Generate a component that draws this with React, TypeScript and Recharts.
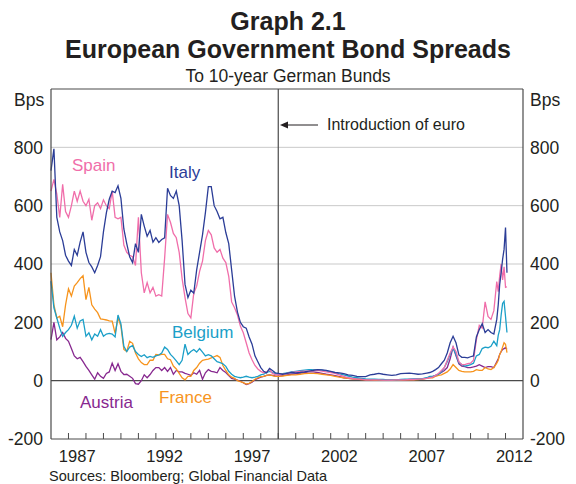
import { LineChart, Line, XAxis, YAxis, ReferenceLine } from 'recharts';

// decimal years: two-monthly to 1999, quarterly to mid-2007, then two-monthly / monthly
const dates = [
  1986, 1986.167, 1986.333, 1986.5, 1986.667, 1986.833,
  1987, 1987.167, 1987.333, 1987.5, 1987.667, 1987.833,
  1988, 1988.167, 1988.333, 1988.5, 1988.667, 1988.833,
  1989, 1989.167, 1989.333, 1989.5, 1989.667, 1989.833,
  1990, 1990.167, 1990.333, 1990.5, 1990.667, 1990.833,
  1991, 1991.167, 1991.333, 1991.5, 1991.667, 1991.833,
  1992, 1992.167, 1992.333, 1992.5, 1992.667, 1992.833,
  1993, 1993.167, 1993.333, 1993.5, 1993.667, 1993.833,
  1994, 1994.167, 1994.333, 1994.5, 1994.667, 1994.833,
  1995, 1995.167, 1995.333, 1995.5, 1995.667, 1995.833,
  1996, 1996.167, 1996.333, 1996.5, 1996.667, 1996.833,
  1997, 1997.167, 1997.333, 1997.5, 1997.667, 1997.833,
  1998, 1998.167, 1998.333, 1998.5, 1998.667, 1998.833,
  1999, 1999.25, 1999.5, 1999.75,
  2000, 2000.25, 2000.5, 2000.75,
  2001, 2001.25, 2001.5, 2001.75,
  2002, 2002.25, 2002.5, 2002.75,
  2003, 2003.25, 2003.5, 2003.75,
  2004, 2004.25, 2004.5, 2004.75,
  2005, 2005.25, 2005.5, 2005.75,
  2006, 2006.25, 2006.5, 2006.75,
  2007, 2007.25, 2007.5, 2007.667, 2007.833,
  2008, 2008.167, 2008.333, 2008.5, 2008.667, 2008.833,
  2009, 2009.167, 2009.333, 2009.5, 2009.667, 2009.833,
  2010, 2010.167, 2010.333, 2010.5, 2010.667, 2010.833,
  2011, 2011.167, 2011.333, 2011.5, 2011.583, 2011.667, 2011.75, 2011.833, 2011.917,
  2012, 2012.083,
];

const italy = [
  720, 795, 560, 510, 480, 430,
  410, 395, 450, 430, 475, 510,
  440, 405, 390, 370, 395, 425,
  510, 575, 622, 650, 645, 668,
  625, 520, 470, 425, 405, 470,
  440, 570, 530, 495, 515, 475,
  490, 474, 484, 490, 660, 635,
  625, 650, 600, 480, 330, 285,
  310, 300, 380, 440, 500, 576,
  665, 665, 600, 580, 555, 560,
  508, 470, 380, 290, 235, 200,
  185, 180, 150, 125, 85, 65,
  45, 32, 27, 42, 35, 27,
  25, 22, 25, 28,
  27, 28, 30, 33,
  35, 38, 37, 35,
  32, 28, 27, 24,
  20, 18, 15, 14,
  14, 20, 22, 25,
  22, 20, 18, 20,
  24, 25, 26, 24,
  22, 23, 26, 28, 32,
  38, 45, 58, 70, 95, 130,
  152, 130, 88, 80, 80, 78,
  82, 85, 150, 175, 195, 165,
  175, 165, 160, 210, 260, 330, 370, 416, 450,
  525, 370,
];

const spain = [
  650, 690, 640, 560, 673, 580,
  560, 600, 650, 615, 650, 615,
  600, 622, 550, 600, 610, 590,
  620, 600, 590, 650, 560, 555,
  560, 465, 440, 430, 425, 395,
  560, 370, 301, 336, 301, 320,
  290, 295, 290, 420, 570, 543,
  505, 490, 440, 350, 285, 230,
  215, 300, 324, 375, 410, 480,
  515, 500, 455, 440, 450, 420,
  405, 358, 270, 250, 225, 187,
  164, 130, 95, 72, 52, 40,
  32, 27, 30, 38, 25, 21,
  20, 22, 25, 28,
  30, 32, 33, 33,
  35, 35, 33, 30,
  28, 25, 20, 15,
  10, 8, 5, 5,
  3, 3, 3, 3,
  2, 2, 2, 3,
  3, 3, 4, 4,
  5, 6, 8, 10, 12,
  18, 25, 35, 45, 70, 95,
  115, 100, 65, 55, 55, 58,
  60, 70, 140, 190, 180, 270,
  220, 210, 240, 340, 305, 360, 400, 345, 390,
  320, 322,
];

const belgium = [
  341, 250, 215, 180, 152, 165,
  175, 190, 221, 180, 205, 210,
  152, 164, 140, 160, 152, 175,
  152, 160, 162, 160, 150, 225,
  195, 118, 100, 115, 120, 100,
  90, 83, 89, 79, 83, 80,
  85, 88, 95, 115, 107, 90,
  80, 68, 55, 70, 125, 90,
  100, 107, 98, 110, 98, 85,
  89, 85, 75, 65, 62, 58,
  49, 32, 22, 15, 12, 10,
  12, 15, 12, 10, 12, 15,
  20, 22, 28, 32, 28, 24,
  22, 24, 27, 30,
  32, 34, 36, 38,
  38, 38, 36, 33,
  30, 27, 23, 20,
  16, 12, 10, 8,
  6, 5, 5, 4,
  4, 3, 3, 3,
  4, 5, 5, 6,
  6, 7, 10, 15, 15,
  18, 22, 30, 45, 65, 90,
  112, 90, 62, 55, 50, 52,
  55, 60, 85, 90, 110, 115,
  113, 118, 135, 120, 155, 175, 225, 265, 272,
  220, 165,
];

const france = [
  370, 260, 215, 221, 185, 260,
  315, 290, 324, 336, 350, 360,
  278, 320, 260, 245, 233, 212,
  210, 208, 205, 204, 162, 215,
  187, 107, 100, 135, 128, 95,
  75, 62, 55, 55, 70, 70,
  90, 88, 90, 90, 75, 72,
  50, 40, 25, 10, 3, 15,
  15, 35, 45, 60, 70, 72,
  74, 78, 82, 86, 80, 52,
  35, 20, 12, 8, 0, -3,
  -7, -12, -9, -3, 5, 10,
  14, 15, 18, 20, 17, 15,
  15, 16, 18, 20,
  20, 22, 24, 25,
  25, 24, 22, 20,
  18, 15, 12, 10,
  8, 6, 5, 4,
  3, 3, 2, 2,
  2, 2, 1, 2,
  2, 3, 3, 3,
  4, 5, 8, 10, 10,
  15, 18, 20, 25, 30, 40,
  55, 45, 35, 32, 30, 30,
  30, 32, 38, 35, 35, 45,
  40, 38, 45, 60, 70, 90, 100, 115, 130,
  125, 96,
];

const austria = [
  141, 200, 140, 150, 165, 145,
  135, 110, 85, 75, 80, 65,
  49, 35, 20, 5, 27, 15,
  8, 25, 30, 60, 35, 58,
  32, 21, 22, 15, 8, -10,
  -12, 0, 20, 10, 21, 35,
  45, 45, 35, 45, 32, 45,
  22, 35, 30, 30, 25, 22,
  18, 27, 22, 35, 5, 27,
  38, 32, 30, 27, 45, 35,
  28, 18, 8, 5, 2, -2,
  -7, -13, -10, -5, 3, 8,
  12, 15, 18, 20, 18, 16,
  15, 17, 20, 22,
  24, 26, 28, 30,
  30, 28, 25, 22,
  20, 17, 14, 10,
  8, 6, 5, 4,
  3, 3, 3, 3,
  2, 2, 2, 3,
  3, 3, 4, 4,
  5, 6, 9, 12, 14,
  18, 22, 28, 35, 45, 75,
  115, 85, 58, 50, 48, 45,
  45, 47, 50, 55, 50, 45,
  48, 48, 45, 65, 75, 90, 100, 107, 110,
  113, 107,
];

const yearTicks = [
  1987, 1988, 1989, 1990, 1991, 1992, 1993, 1994, 1995, 1996, 1997, 1998, 1999,
  2000, 2001, 2002, 2003, 2004, 2005, 2006, 2007, 2008, 2009, 2010, 2011, 2012,
];
const labelYears = [1987, 1992, 1997, 2002, 2007, 2012];
const yTicks = [-200, 0, 200, 400, 600, 800];
const gridValues = [200, 400, 600, 800];

const COLOURS = {
  italy: '#2b3d97',
  spain: '#f06eaa',
  belgium: '#1b9fc8',
  france: '#f7941d',
  austria: '#87288f',
};

const TEXT = '#231f20';
const AXIS = '#4a4a4a';
const FONT = '"Liberation Sans", Arial, sans-serif';

const data = dates.map((t, i) => ({
  t,
  italy: italy[i],
  spain: spain[i],
  belgium: belgium[i],
  france: france[i],
  austria: austria[i],
}));

// year boundaries get a short inward tick, mid-year positions carry the label
const xTicks = [...yearTicks, ...labelYears.map(y => y + 0.5)].sort((a, b) => a - b);

function YearTick(props: any) {
  const { x, y, payload } = props;
  const v = payload.value;
  if (Number.isInteger(v)) {
    return <line x1={x} x2={x} y1={y} y2={y - 6} stroke={AXIS} strokeWidth={1} />;
  }
  return (
    <text x={x} y={y + 23} textAnchor="middle" fontSize={16.5} fill={TEXT}>
      {Math.floor(v)}
    </text>
  );
}

const SERIES: (keyof typeof COLOURS)[] = ['austria', 'france', 'belgium', 'spain', 'italy'];

export default function App() {
  return (
    <div style={{ position: 'absolute', left: 0, top: 0, width: 576, height: 484, background: '#fff', fontFamily: FONT }}>
      <LineChart
        width={576}
        height={484}
        data={data}
        margin={{ top: 89, right: 0, left: 0, bottom: 15 }}
      >
        {gridValues.map(v => (
          <ReferenceLine key={v} yAxisId="l" y={v} stroke="#c9c9c9" strokeWidth={1} />
        ))}
        <ReferenceLine yAxisId="l" y={0} stroke={AXIS} strokeWidth={1.2} />
        <ReferenceLine yAxisId="r" y={1000} stroke={AXIS} strokeWidth={1.2} />
        <ReferenceLine yAxisId="l" x={1999} stroke={AXIS} strokeWidth={1.2} />
        <XAxis
          dataKey="t"
          type="number"
          domain={[1986, 2013]}
          ticks={xTicks}
          interval={0}
          tick={<YearTick />}
          tickLine={false}
          tickSize={0}
          tickMargin={0}
          height={30}
          axisLine={{ stroke: AXIS, strokeWidth: 1.2 }}
        />
        <YAxis
          yAxisId="l"
          orientation="left"
          domain={[-200, 1000]}
          ticks={yTicks}
          interval={0}
          width={51}
          tickLine={false}
          tickSize={0}
          tickMargin={8}
          axisLine={{ stroke: AXIS, strokeWidth: 1.2 }}
          tick={{ fontSize: 17.5, fill: TEXT }}
        />
        <YAxis
          yAxisId="r"
          orientation="right"
          domain={[-200, 1000]}
          ticks={yTicks}
          interval={0}
          width={53}
          tickLine={false}
          tickSize={0}
          tickMargin={7}
          axisLine={{ stroke: AXIS, strokeWidth: 1.2 }}
          tick={{ fontSize: 17.5, fill: TEXT, textAnchor: 'start' }}
        />
        {/* invisible twin so the right-hand axis is laid out */}
        <Line
          yAxisId="r"
          dataKey="italy"
          stroke="none"
          dot={false}
          activeDot={false}
          legendType="none"
          isAnimationActive={false}
        />
        {SERIES.map(s => (
          <Line
            key={s}
            yAxisId="l"
            type="linear"
            dataKey={s}
            stroke={COLOURS[s]}
            strokeWidth={1.3}
            dot={false}
            isAnimationActive={false}
          />
        ))}
      </LineChart>

      <svg
        width={576}
        height={484}
        style={{ position: 'absolute', left: 0, top: 0, pointerEvents: 'none', fontFamily: FONT }}
      >
        <text x={288} y={30} textAnchor="middle" fontSize={25} fontWeight="bold" fill={TEXT}>Graph 2.1</text>
        <text x={288} y={58} textAnchor="middle" fontSize={25} fontWeight="bold" fill={TEXT}>European Government Bond Spreads</text>
        <text x={288} y={82} textAnchor="middle" fontSize={17.5} fill={TEXT}>To 10-year German Bunds</text>

        <text x={14} y={106} fontSize={17.5} fill={TEXT}>Bps</text>
        <text x={530} y={106} fontSize={17.5} fill={TEXT}>Bps</text>

        <line x1={283} x2={318} y1={125} y2={125} stroke={TEXT} strokeWidth={1} />
        <path d="M280,125 L288,121.5 L288,128.5 Z" fill={TEXT} />
        <text x={327} y={130} fontSize={16} fill={TEXT}>Introduction of euro</text>

        <text x={72} y={171} fontSize={17} fill={COLOURS.spain}>Spain</text>
        <text x={169} y={178} fontSize={17} fill={COLOURS.italy}>Italy</text>
        <text x={172} y={338} fontSize={17} fill={COLOURS.belgium}>Belgium</text>
        <text x={159} y={403} fontSize={17} fill={COLOURS.france}>France</text>
        <text x={80} y={408} fontSize={17} fill={COLOURS.austria}>Austria</text>

        <text x={49} y={481} fontSize={14.5} fill={TEXT}>Sources: Bloomberg; Global Financial Data</text>
      </svg>
    </div>
  );
}
